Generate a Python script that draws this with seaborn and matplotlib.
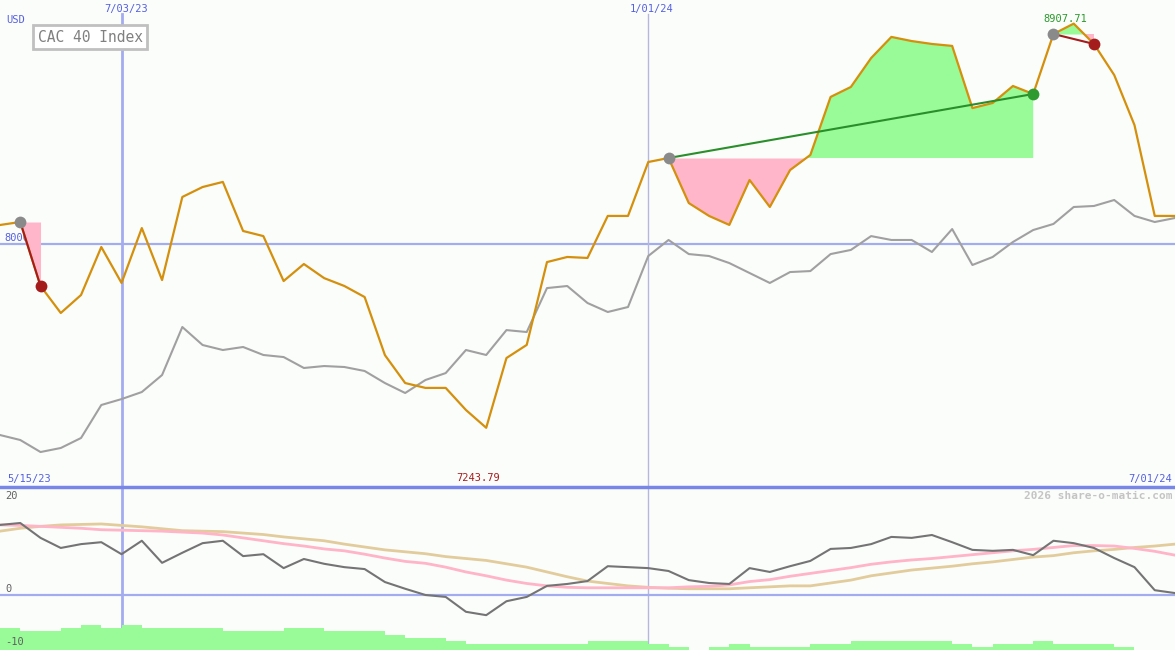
import numpy as np
import pandas as pd
import matplotlib
matplotlib.use("Agg")
import matplotlib.pyplot as plt
import matplotlib.dates as mdates
from matplotlib.lines import Line2D
import seaborn as sns

# ---------------- data ----------------
title = "CAC 40 Index"
currency = "USD"
start_date = "2023-05-22"
range_start_label = "5/15/23"
range_end_label = "7/01/24"
marker_dates = ["2023-07-03", "2024-01-01"]
marker_labels = ["7/03/23", "1/01/24"]
ref_level = 8000
ref_label = "8000"
watermark = "2026 share-o-matic.com"

close = [8078.7, 8091.0, 7827.5, 7716.4, 7790.5, 7988.0, 7840.0, 8066.0, 7852.0, 8194.0,
         8235.0, 8256.0, 8054.0, 8033.0, 7848.0, 7918.0, 7860.0, 7827.5, 7782.0, 7543.0,
         7428.0, 7408.0, 7408.0, 7317.0, 7243.79, 7531.0, 7585.0, 7926.0, 7947.0, 7943.0,
         8116.0, 8116.0, 8338.0, 8354.5, 8169.0, 8116.0, 8079.0, 8264.0, 8153.0, 8305.0,
         8367.0, 8606.0, 8647.0, 8766.0, 8853.0, 8836.0, 8824.0, 8816.0, 8560.0, 8581.0,
         8651.0, 8618.0, 8865.0, 8907.71, 8824.0, 8696.0, 8490.0, 8116.0, 8116.0]

compare = [7214.0, 7193.5, 7144.0, 7160.6, 7201.8, 7337.6, 7362.0, 7391.0, 7461.0, 7658.7,
           7584.6, 7564.0, 7576.4, 7543.5, 7535.0, 7490.0, 7498.0, 7494.0, 7477.6, 7428.0,
           7387.0, 7440.5, 7469.0, 7564.0, 7543.5, 7646.0, 7638.0, 7819.0, 7827.5, 7757.5,
           7720.5, 7741.0, 7951.0, 8017.0, 7959.0, 7951.0, 7922.0, 7881.0, 7840.0, 7885.0,
           7889.0, 7959.0, 7976.0, 8033.0, 8017.0, 8017.0, 7967.5, 8062.0, 7914.0, 7947.0,
           8008.7, 8058.0, 8083.0, 8152.8, 8157.0, 8181.6, 8116.0, 8091.0, 8107.5]

momentum = [14.6, 15.0, 11.9, 9.8, 10.6, 11.0, 8.5, 11.3, 6.7, 8.8,
            10.8, 11.3, 8.1, 8.5, 5.6, 7.5, 6.5, 5.8, 5.4, 2.7,
            1.3, 0.0, -0.4, -3.5, -4.2, -1.3, -0.4, 1.9, 2.3, 2.9,
            6.0, 5.8, 5.6, 5.0, 3.1, 2.5, 2.3, 5.6, 4.8, 6.0,
            7.1, 9.6, 9.8, 10.6, 12.1, 11.9, 12.5, 11.0, 9.4, 9.2,
            9.4, 8.3, 11.3, 10.8, 9.8, 7.7, 5.8, 1.0, 0.4]

ma_fast = [14.6, 14.5, 14.3, 14.1, 13.9, 13.6, 13.5, 13.4, 13.3, 13.1,
           12.9, 12.5, 11.9, 11.3, 10.7, 10.2, 9.6, 9.2, 8.5, 7.7,
           7.0, 6.6, 5.8, 4.8, 4.0, 3.1, 2.4, 1.9, 1.6, 1.5,
           1.5, 1.5, 1.5, 1.5, 1.7, 1.8, 2.1, 2.8, 3.2, 3.9,
           4.5, 5.1, 5.7, 6.4, 6.9, 7.3, 7.6, 8.0, 8.4, 8.8,
           9.2, 9.5, 9.9, 10.3, 10.3, 10.2, 9.7, 9.1, 8.3]

ma_slow = [13.3, 13.9, 14.3, 14.6, 14.7, 14.8, 14.5, 14.2, 13.8, 13.4,
           13.3, 13.2, 12.9, 12.6, 12.1, 11.7, 11.3, 10.6, 10.0, 9.4,
           9.0, 8.6, 8.0, 7.6, 7.2, 6.5, 5.8, 4.8, 3.8, 2.9,
           2.4, 1.9, 1.6, 1.4, 1.3, 1.3, 1.3, 1.5, 1.7, 1.9,
           1.9, 2.5, 3.1, 4.0, 4.6, 5.2, 5.6, 6.0, 6.5, 6.9,
           7.4, 7.9, 8.2, 8.8, 9.2, 9.5, 9.9, 10.2, 10.6]

volume = [7, 6, 6, 7, 8, 7, 8, 7, 7, 7,
          7, 6, 6, 6, 7, 7, 6, 6, 6, 5,
          4, 4, 3, 2, 2, 2, 2, 2, 2, 3,
          3, 3, 2, 1, 0, 1, 2, 1, 1, 1,
          2, 2, 3, 3, 3, 3, 3, 2, 1, 2,
          2, 3, 2, 2, 2, 1, 0, 0]

# trades: (entry index, exit index)
trade_entry = [1, 33, 52]
trade_exit = [2, 51, 54]

# ---------------- style ----------------
W, H = 1175, 650
BG = "#fbfdfb"
BLUE_TXT = "#5560e0"
GRID = "#a4acf0"
ORANGE = "#d4900c"
GREY = "#a0a0a0"
PINK_FILL = "#ffb6cb"
GREEN_FILL = "#98fb98"
RED = "#a51c1c"
GREEN = "#2a8f2a"
MONO = ["DejaVu Sans Mono"]

plt.rcParams["font.family"] = MONO

dates = pd.date_range(start_date, periods=len(close), freq="7D")
xnum = mdates.date2num(dates)
c = np.array(close)

fig = plt.figure(figsize=(W / 100, H / 100), dpi=100)
fig.patch.set_facecolor(BG)

lower_h = 163 / H
ax1 = fig.add_axes([0, lower_h, 1, 1 - lower_h])
ax2 = fig.add_axes([0, 0, 1, lower_h])
for ax in (ax1, ax2):
    ax.set_facecolor(BG)
    ax.set_xlim(xnum[0], xnum[-1])
    ax.axis("off")

ax1.set_ylim(7000, 9005)
ax2.set_ylim(-11.46, 22.5)

def fpx(x, y):
    return x / W, 1 - y / H

# reference lines
ax1.axhline(ref_level, color=GRID, lw=1.6, zorder=1)
ax2.axhline(0, color=GRID, lw=1.6, zorder=1)
m0 = mdates.date2num(pd.Timestamp(marker_dates[0]))
m1 = mdates.date2num(pd.Timestamp(marker_dates[1]))
ax1.axvline(m0, ymin=0, ymax=1 - 14 / 487, color=GRID, lw=2, zorder=1)
ax2.axvline(m0, color=GRID, lw=2, zorder=0)
ax1.axvline(m1, ymin=0, ymax=1 - 14 / 487, color="#b4b8dc", lw=1, zorder=1)
ax2.axvline(m1, color="#b4b8dc", lw=1, zorder=0)

ax1.text(0.004, (ref_level - 7000) / 2005 + 0.012, ref_label, transform=ax1.transAxes,
         color=BLUE_TXT, fontsize=7.5, va="center", ha="left", zorder=1.5)

# trade fills
for e, x in zip(trade_entry, trade_exit):
    lvl = c[e]
    xs = xnum[e:x + 1]
    ys = c[e:x + 1]
    ax1.fill_between(xs, ys, lvl, where=ys >= lvl, interpolate=True,
                     color=GREEN_FILL, lw=0, zorder=2)
    ax1.fill_between(xs, ys, lvl, where=ys <= lvl, interpolate=True,
                     color=PINK_FILL, lw=0, zorder=2)

# main lines
sns.lineplot(x=dates, y=compare, ax=ax1, color=GREY, lw=1.5, zorder=3)
sns.lineplot(x=dates, y=close, ax=ax1, color=ORANGE, lw=1.6, zorder=4)
ax1.axis("off")

for e, x in zip(trade_entry, trade_exit):
    col = GREEN if c[x] > c[e] else RED
    ax1.plot([xnum[e], xnum[x]], [c[e], c[x]], color=col, lw=1.5, zorder=5)
    ax1.plot(xnum[e], c[e], "o", color="#8a8a8a", ms=8.5, zorder=6, mew=0)
    ax1.plot(xnum[x], c[x], "o", color=col if col == RED else "#2f9a2f", ms=8.5, zorder=6, mew=0)

imax = int(np.argmax(c))
imin = int(np.argmin(c))
ax1.text(xnum[imax] - 2.8, 8907.71, f"{c[imax]:.2f}", color="#2a9a2a", fontsize=7.5,
         ha="center", va="bottom", zorder=7)
fig.text(*fpx(0, 479), "", fontsize=1)
ax1.text(xnum[imin] - 2.8, 0.0175, f"{c[imin]:.2f}", transform=ax1.get_xaxis_transform(),
         color=RED, fontsize=7.5, ha="center", va="center", zorder=7)

# lower panel
ax3 = ax2.twinx()
ax3.set_ylim(0, 163 / 3.1)
ax3.set_xlim(xnum[0], xnum[-1])
ax3.axis("off")
ax3.bar(xnum[:-1], volume, width=7, align="edge", color=GREEN_FILL, lw=0, zorder=1)

sns.lineplot(x=dates, y=ma_slow, ax=ax2, color="#e2cc9c", lw=2, zorder=2)
sns.lineplot(x=dates, y=ma_fast, ax=ax2, color="#ffb4c8", lw=2, zorder=2)
sns.lineplot(x=dates, y=momentum, ax=ax2, color="#747474", lw=1.5, zorder=3)
ax2.axis("off")

# separator
fig.add_artist(Line2D([0, 1], [1 - 487 / H, 1 - 487 / H], color="#7886e8", lw=2.5))

# texts
fig.text(*fpx(6, 20), currency, color=BLUE_TXT, fontsize=7.5, va="center", ha="left")
ax1.text(m0 + 1.5, 1 - 9 / 487, marker_labels[0], transform=ax1.get_xaxis_transform(),
         color=BLUE_TXT, fontsize=7.5, ha="center", va="center")
ax1.text(m1 + 1.0, 1 - 9 / 487, marker_labels[1], transform=ax1.get_xaxis_transform(),
         color=BLUE_TXT, fontsize=7.5, ha="center", va="center")
fig.text(*fpx(90, 37), title, color="#808080", fontsize=10.5, ha="center", va="center",
         bbox=dict(boxstyle="square,pad=0.28", facecolor="white", edgecolor="#c0c0c0", lw=2),
         zorder=10)
fig.text(*fpx(7, 479), range_start_label, color=BLUE_TXT, fontsize=7.5, ha="left", va="center")
fig.text(*fpx(1172, 479), range_end_label, color=BLUE_TXT, fontsize=7.5, ha="right", va="center")
fig.text(*fpx(1172, 496), watermark, color="#c4c4c4", fontsize=8, fontweight="bold",
         ha="right", va="center")
fig.text(*fpx(5, 496), "20", color="#606060", fontsize=7.5, ha="left", va="center")
fig.text(*fpx(5, 589), "0", color="#606060", fontsize=7.5, ha="left", va="center")
fig.text(*fpx(5, 642), "-10", color="#606060", fontsize=7.5, ha="left", va="center")

fig.savefig("out.png", dpi=100, facecolor=BG)
